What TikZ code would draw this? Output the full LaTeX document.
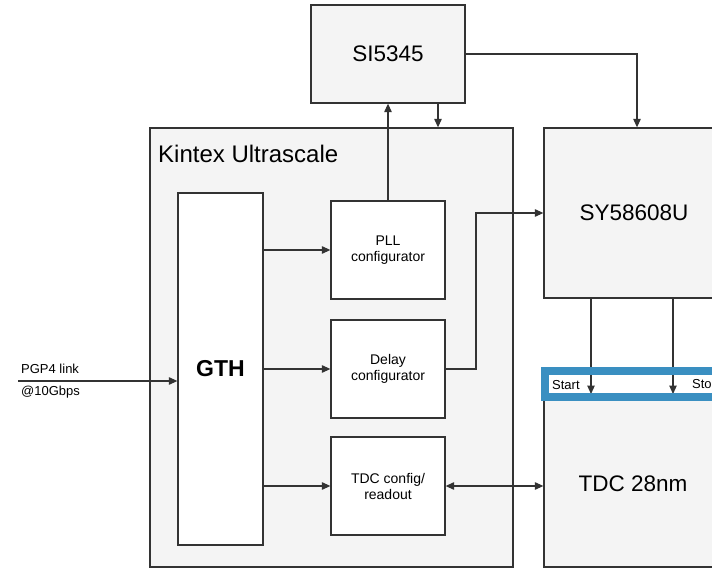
\documentclass[tikz,border=0pt]{standalone}
\usepackage{fontspec}
\setmainfont{Liberation Sans}
\usetikzlibrary{arrows.meta}
\definecolor{panel}{HTML}{F4F4F4}
\definecolor{edge}{HTML}{333333}
\definecolor{stripblue}{HTML}{3A8FC1}
\begin{document}
\begin{tikzpicture}[x=1pt,y=-1pt,
  box/.style={draw=edge, line width=1.3pt, inner sep=0pt, align=center},
  big/.style={font=\fontsize{22.5}{26}\selectfont},
  small/.style={font=\fontsize{14}{16}\selectfont},
  tiny/.style={font=\fontsize{13}{15}\selectfont, inner sep=0pt},
  arr/.style={draw=edge, line width=1.1pt, -{Triangle[length=8.5pt,width=7.5pt]}},
  biarr/.style={draw=edge, line width=1.1pt, {Triangle[length=8.5pt,width=7.5pt]}-{Triangle[length=8.5pt,width=7.5pt]}}]

\useasboundingbox (0,0) rectangle (712,572);
\clip (0,0) rectangle (712,572);

% ---------- SI5345 ----------
\node[box, big, fill=panel, minimum width=154pt, minimum height=98pt] (si) at (388,54) {SI5345};

% ---------- Kintex Ultrascale ----------
\node[box, fill=panel, minimum width=363pt, minimum height=439pt] (fpga) at (331.5,347.5) {};
\node[font=\fontsize{24}{28}\selectfont, anchor=base west, inner sep=0pt] (fpgalabel) at (158,163) {Kintex Ultrascale};

\node[box, fill=white, minimum width=85pt, minimum height=352pt,
      font=\fontsize{23}{27}\selectfont\bfseries] (gth) at (220.5,369) {GTH};

\node[box, small, fill=white, minimum width=114pt, minimum height=98pt] (pll) at (388,250) {PLL\\configurator};
\node[box, small, fill=white, minimum width=114pt, minimum height=98pt] (dly) at (388,369) {Delay\\configurator};
\node[box, small, fill=white, minimum width=114pt, minimum height=98pt] (tdccfg) at (388,486) {TDC config/\\readout};

% ---------- SY58608U ----------
\node[box, fill=panel, minimum width=200pt, minimum height=170pt] (sy) at (644,213) {};
\node[big] (sytext) at (634,213) {SY58608U};

% ---------- TDC 28nm ----------
\node[box, fill=panel, minimum width=200pt, minimum height=197pt] (tdc) at (644,468.5) {};
\node[big] (tdctext) at (633,484) {TDC 28nm};

% ---------- Start / Stop strip ----------
\node[fill=white, inner sep=0pt, outer sep=0pt, minimum width=200pt, minimum height=26pt] (strip) at (645,384) {};
\coordinate (startin) at (591,394);
\coordinate (stopin) at (673,394);
\draw[arr] (sy.south -| startin) -- (startin);
\draw[arr] (sy.south -| stopin) -- (stopin);
\draw[stripblue, line width=8pt] (strip.north west) rectangle (strip.south east);
\node[tiny, anchor=west] (start) at (552,385) {Start};
\node[tiny, anchor=west] (stop) at (692,385) {Stop};

% ---------- clock and config lines ----------
\draw[arr] (pll.north) -- (si.south);
\coordinate (fpgain) at (438,0);
\draw[arr] (si.south -| fpgain) -- (fpga.north -| fpgain);
\coordinate (syin) at (637,0);
\draw[arr] (si.east) -| (sy.north -| syin);
\coordinate (dlyturn) at (476,0);
\draw[arr] (dly.east) -| (dlyturn |- sy.west) -- (sy.west);

\draw[arr] (gth.east |- pll.west) -- (pll.west);
\draw[arr] (gth.east |- dly.west) -- (dly.west);
\draw[arr] (gth.east |- tdccfg.west) -- (tdccfg.west);
\draw[biarr] (tdccfg.east) -- (tdccfg.east -| tdc.west);

% ---------- PGP4 link ----------
\coordinate (pgpin) at (18,381);
\draw[arr] (pgpin) -- (pgpin -| gth.west);
\node[tiny, anchor=base west] (pgplabel) at (21,373) {PGP4 link};
\node[tiny, anchor=base west] (ratelabel) at (21,395) {@10Gbps};

\end{tikzpicture}
\end{document}
